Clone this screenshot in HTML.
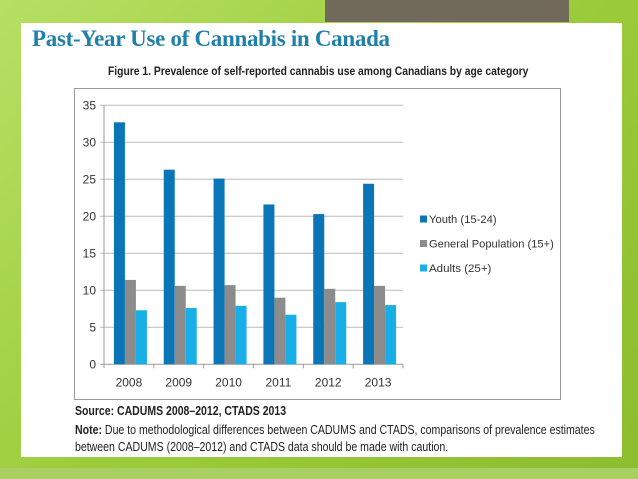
<!DOCTYPE html>
<html><head><meta charset="utf-8"><style>
body{margin:0;width:638px;height:479px;overflow:hidden;background:linear-gradient(135deg,#b6e064 0%,#9ccc3a 50%,#8cbd2f 100%);position:relative;font-family:"Liberation Sans",sans-serif}
.abs{position:absolute}
</style></head><body>
<div class="abs" style="left:325px;top:0;width:244px;height:22px;background:#71695a"></div>
<div class="abs" style="left:0;top:468px;width:638px;height:11px;background:#a9cf63"></div>
<div class="abs" style="left:21px;top:23px;width:601px;height:434px;background:#fff"></div>
<div class="abs" style="left:32px;top:26px;font-family:'Liberation Serif',serif;font-weight:bold;font-size:23px;color:#1f80aa;letter-spacing:-0.3px">Past-Year Use of Cannabis in Canada</div>
<div class="abs" style="left:108px;top:64px;font-size:12px;font-weight:bold;color:#222;transform:scaleX(0.86);transform-origin:left">Figure 1. Prevalence of self-reported cannabis use among Canadians by age category</div>
<svg class="abs" style="left:0;top:0" width="638" height="479">
<rect x="74.5" y="88.5" width="486" height="311" fill="#fff" stroke="#999"/>
<g id="g"></g>
</svg>
<div class="abs" style="left:75px;top:404px;font-size:12.5px;font-weight:bold;color:#222;transform:scaleX(0.84);transform-origin:left">Source: CADUMS 2008–2012, CTADS 2013</div>
<div class="abs" style="left:75px;top:422px;font-size:12.5px;color:#222;line-height:17px;width:700px;transform:scaleX(0.845);transform-origin:left"><b>Note:</b> Due to methodological differences between CADUMS and CTADS, comparisons of prevalence estimates<br>between CADUMS (2008–2012) and CTADS data should be made with caution.</div>
<script>
const categories=["2008","2009","2010","2011","2012","2013"];
const youth=[32.7,26.3,25.1,21.6,20.3,24.4];
const general=[11.4,10.6,10.7,9.0,10.2,10.6];
const adults=[7.3,7.6,7.9,6.7,8.4,8.0];
const seriesNames=["Youth (15-24)","General Population (15+)","Adults (25+)"];
const yTicks=[0,5,10,15,20,25,30,35];
const NS="http://www.w3.org/2000/svg";
const g=document.getElementById('g');
const X0=104,X1=403,Y0=364.3,Y1=105.3,YMAX=35;
const colors=["#0a76b8","#8c8c8c","#18aee8"];
function y(v){return Y0-(v/YMAX)*(Y0-Y1);}
const cw=(X1-X0)/categories.length;
function xc(i){return X0+cw*(i+0.5)+1.5;}
function mk(t,a){const e=document.createElementNS(NS,t);for(const k in a)e.setAttribute(k,a[k]);g.appendChild(e);return e;}
yTicks.forEach(v=>{
 const l=mk('line',{x1:X0-4,x2:X1,y1:y(v),y2:y(v),stroke:v===0?'#999':'#bbb','stroke-width':1});
 
 
 const t=mk('text',{x:X0-8,y:y(v)+4,'text-anchor':'end','font-size':12,fill:'#333','font-family':'Liberation Sans,sans-serif'});
 t.textContent=v;
 
 
});
mk('line',{x1:X0,x2:X0,y1:Y1,y2:Y0,stroke:'#999'});
const series=[youth,general,adults];
categories.forEach((c,i)=>{
 const tk=mk('line',{x1:X0+cw*i,x2:X0+cw*i,y1:Y0,y2:Y0+4,stroke:'#999'});
 series.forEach((s,j)=>{
  const r=mk('rect',{x:xc(i)-16.5+11*j,y:y(s[i]),width:11,height:Y0-y(s[i]),fill:colors[j]});
  
  
 });
 const t=mk('text',{x:X0+cw*(i+0.5),y:Y0+22,'text-anchor':'middle','font-size':12,fill:'#333','font-family':'Liberation Sans,sans-serif'});
 t.textContent=c;
 
 
});
mk('line',{x1:X1,x2:X1,y1:Y0,y2:Y0+4,stroke:'#999'});
seriesNames.forEach((n,j)=>{
 const yy=219+24.5*j;
 const r=mk('rect',{x:420,y:yy-3.5,width:7,height:7,fill:colors[j]});
 
 
 const t=mk('text',{x:429,y:yy+4,'font-size':11,fill:'#333','font-family':'Liberation Sans,sans-serif',textLength:n.length*5.2,lengthAdjust:'spacingAndGlyphs'});
 t.textContent=n;
 
 
});
</script>
</body></html>
